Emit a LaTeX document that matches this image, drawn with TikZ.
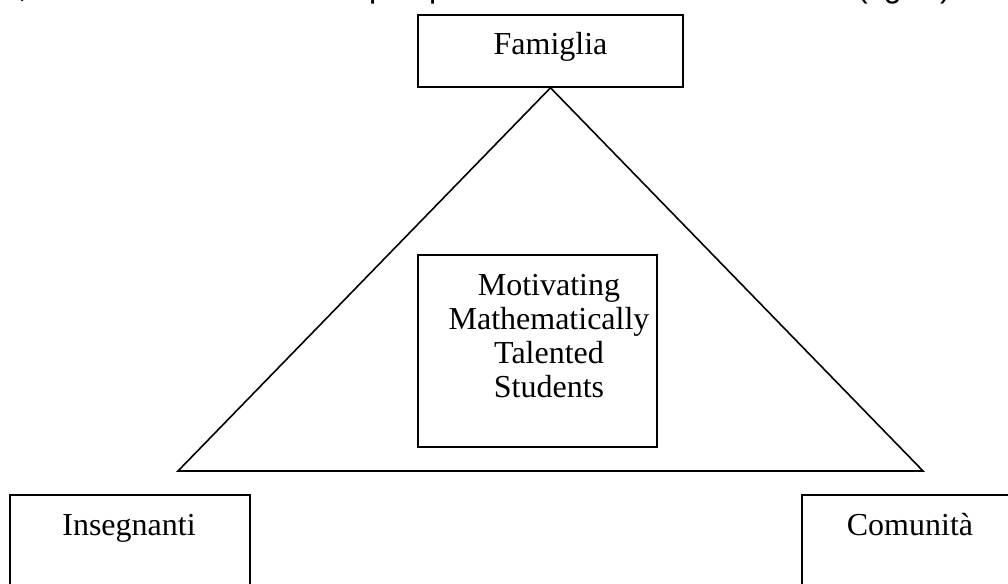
\documentclass[tikz,border=0pt]{standalone}
\usepackage{fontspec}
\setmainfont{Liberation Serif}
\newfontfamily\bodysans{Liberation Sans}
\begin{document}
\begin{tikzpicture}[x=1pt,y=-1pt,
  frame/.style={draw=black, line width=1.6pt, rectangle, inner sep=0pt},
  lbl/.style={font=\fontsize{32}{34}\selectfont, inner sep=0pt, anchor=base},
  cut/.style={font=\bodysans\fontsize{32}{34}\selectfont, inner sep=0pt, anchor=base west},
  edge/.style={draw=black, line width=1.6pt, line join=miter}]
\useasboundingbox (0,0) rectangle (1008,583);
\begin{scope}
  \clip (0,0) rectangle (1008,583);
  % descenders of the running text line above the figure
  \node[cut] (t1) at (18,-2) {,};
  \node[cut] (t2) at (369,-2) {p};
  \node[cut] (t3) at (429,-2) {p};
  \node[cut] (t4) at (857,-2) {(fig. 1)};

  % boxes
  \node[frame, minimum width=265pt, minimum height=72pt] (fam) at (550.5,51) {};
  \node[lbl] (famtext) at (550.5,55) {Famiglia};

  \node[frame, minimum width=239pt, minimum height=192pt] (core) at (537.5,351) {};
  % base anchor of a multi-line node sits on its last line
  \node[lbl, align=center] (coretext) at (549,397)
    {Motivating\\Mathematically\\Talented\\Students};

  \node[frame, minimum width=240pt, minimum height=130pt] (ins) at (130,560) {};
  \node[lbl] (instext) at (129,535) {Insegnanti};

  \node[frame, minimum width=216pt, minimum height=130pt] (com) at (910,560) {};
  \node[lbl] (comtext) at (910,535) {Comunità};

  % triangle hanging from the top box
  \coordinate (tl) at (178,471);
  \coordinate (tr) at (923,471);
  \draw[edge] (fam.south) -- (tl) -- (tr) -- cycle;
\end{scope}
\end{tikzpicture}
\end{document}
